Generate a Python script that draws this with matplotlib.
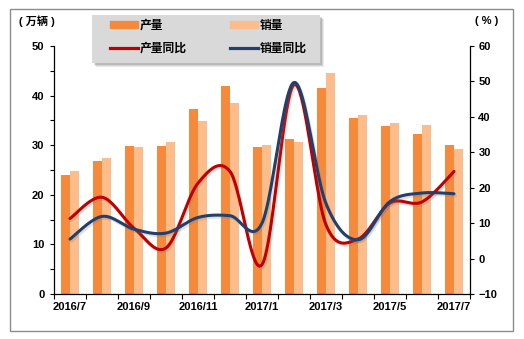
import numpy as np
import matplotlib
matplotlib.use("Agg")
import matplotlib.pyplot as plt
from matplotlib import patheffects as pe
from matplotlib.patches import Rectangle
from matplotlib.lines import Line2D
from matplotlib.font_manager import FontProperties

plt.rcParams["font.family"] = ["Liberation Sans", "Noto Sans CJK SC"]
plt.rcParams["font.weight"] = "bold"
plt.rcParams["font.size"] = 8

# Monthly data
months = ["2016/7", "2016/8", "2016/9", "2016/10", "2016/11", "2016/12", "2017/1",
          "2017/2", "2017/3", "2017/4", "2017/5", "2017/6", "2017/7"]
production = [23.9, 26.8, 29.8, 29.8, 37.3, 41.9, 29.6, 31.2, 41.5, 35.5, 33.9, 32.3, 30.0]
sales = [24.8, 27.4, 29.6, 30.6, 34.9, 38.6, 30.0, 30.6, 44.6, 36.1, 34.5, 34.1, 29.3]
prod_yoy = [11.3, 17.3, 8.6, 3.0, 21.3, 24.6, -1.7, 49.1, 9.5, 5.5, 15.7, 16.0, 24.6]
sales_yoy = [5.5, 11.9, 8.3, 7.2, 11.6, 12.1, 10.0, 49.7, 15.5, 5.3, 16.1, 18.5, 18.3]

series_names = ["产量", "销量", "产量同比", "销量同比"]
left_unit = "万辆"
right_unit = "%"

c_prod = "#F58A3D"
c_sales = "#FABD8B"
c_prod_line = "#C00000"
c_sales_line = "#22406E"


def smooth_path(x, y, n=40):
    """Bezier smoothing through every data point (spreadsheet-style smoothed line)."""
    pts = np.column_stack([x, y]).astype(float)
    P = np.vstack([pts[0], pts, pts[-1]])
    out = []
    t = np.linspace(0, 1, n)[:, None]
    for i in range(len(pts) - 1):
        p0, p1, p2, p3 = P[i], P[i + 1], P[i + 2], P[i + 3]
        c1 = p1 + (p2 - p0) / 6.0
        c2 = p2 - (p3 - p1) / 6.0
        seg = (1 - t) ** 3 * p1 + 3 * (1 - t) ** 2 * t * c1 + 3 * (1 - t) * t ** 2 * c2 + t ** 3 * p2
        out.append(seg if i == 0 else seg[1:])
    return np.vstack(out)


W, H = 524, 339
fig = plt.figure(figsize=(W / 100, H / 100), dpi=100)
ax = fig.add_axes([54 / W, 1 - 294 / H, 416 / W, 248 / H])
ax2 = ax.twinx()

x = np.arange(len(months))
bw = 0.28
ax.bar(x - bw / 2, production, width=bw, color=c_prod, linewidth=0)
ax.bar(x + bw / 2, sales, width=bw, color=c_sales, linewidth=0)

shadow = [pe.SimpleLineShadow(offset=(1.0, -1.5), shadow_color="#777777", alpha=0.22), pe.Normal()]
sp = smooth_path(x, prod_yoy)
ss = smooth_path(x, sales_yoy)
ax2.plot(sp[:, 0], sp[:, 1], color=c_prod_line, lw=2.2, solid_capstyle="round", path_effects=shadow)
ax2.plot(ss[:, 0], ss[:, 1], color=c_sales_line, lw=2.2, solid_capstyle="round", path_effects=shadow)

# Axes limits and ticks
ax.set_xlim(-0.5, len(months) - 0.5)
ax.set_ylim(0, 50)
ax2.set_ylim(-10, 60)
ax.set_yticks(np.arange(0, 51, 10))
ax.set_yticks(np.arange(5, 50, 10), minor=True)
ax2.set_yticks(np.arange(-10, 61, 10))
ax.set_xticks(x[::2])
ax.set_xticklabels(months[::2])
ax.set_xticks(np.arange(-0.5, len(months), 1), minor=True)

ax.tick_params(axis="x", which="major", length=0, pad=6, labelsize=8)
ax.tick_params(axis="x", which="minor", length=3.5, width=0.8, direction="out")
ax.tick_params(axis="y", which="both", length=3, width=0.8, direction="out", pad=4, labelsize=8)
ax2.tick_params(axis="y", length=3, width=0.8, direction="out", pad=3, labelsize=8)

for a in (ax, ax2):
    a.spines["top"].set_visible(False)
    for s in a.spines.values():
        s.set_linewidth(0.9)
        s.set_color("black")
ax.spines["right"].set_visible(False)
ax2.spines["left"].set_visible(False)
ax2.spines["bottom"].set_visible(False)

# Unit labels
fig.text(37 / W, 1 - 21 / H, f"( {left_unit} )", ha="center", va="center", fontsize=8,
         fontweight="bold", family=["Liberation Sans", "Noto Sans CJK SC"])
fig.text(487 / W, 1 - 21 / H, f"( {right_unit} )", ha="center", va="center", fontsize=8,
         fontweight="bold", family=["Liberation Sans", "Noto Sans CJK SC"])

# Outer frame
fig.add_artist(Rectangle((10 / W, 1 - 331 / H), 503 / W, 322 / H, transform=fig.transFigure,
                         fill=False, edgecolor="#8c8c8c", lw=1.0, zorder=2))

# Legend box with a soft drop shadow
lx0, ly0, lx1, ly1 = 92, 15, 320, 63
for off, al in [(4, 0.12), (3, 0.15), (2, 0.2)]:
    fig.add_artist(Rectangle(((lx0 + off) / W, 1 - (ly1 + off) / H), (lx1 - lx0) / W, (ly1 - ly0) / H,
                             transform=fig.transFigure, facecolor="#555555", edgecolor="none",
                             alpha=al, zorder=1))
fig.add_artist(Rectangle((lx0 / W, 1 - ly1 / H), (lx1 - lx0) / W, (ly1 - ly0) / H,
                         transform=fig.transFigure, facecolor="#d9d9d9", edgecolor="none", zorder=1.1))

handles = [Rectangle((0, 0), 1, 1, color=c_prod),
           Line2D([], [], color=c_prod_line, lw=2.3),
           Rectangle((0, 0), 1, 1, color=c_sales),
           Line2D([], [], color=c_sales_line, lw=2.3)]
labels = [series_names[0], series_names[2], series_names[1], series_names[3]]
fig.legend(handles, labels, loc="upper left", bbox_to_anchor=(110 / W, 1 - 19 / H), ncol=2,
           frameon=False, borderpad=0, borderaxespad=0, handlelength=2.4, handleheight=0.55,
           handletextpad=0.15, columnspacing=3.6, labelspacing=0.85,
           prop=FontProperties(family=["Noto Sans CJK SC"], weight="bold", size=8.5))

fig.savefig("out.png", dpi=100)
